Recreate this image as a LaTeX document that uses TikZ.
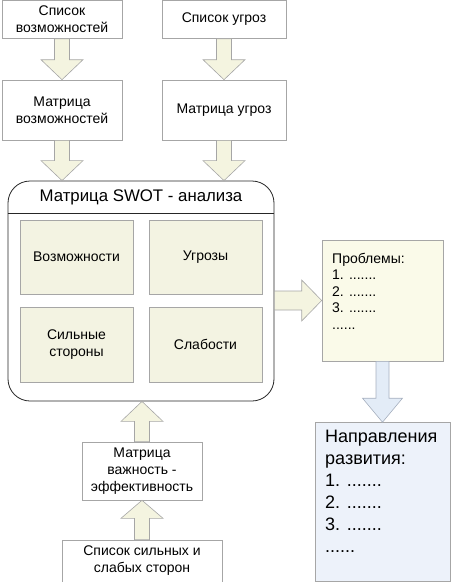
\documentclass[tikz,border=0pt]{standalone}
\usepackage{fontspec}
\setmainfont{Liberation Sans}
\usetikzlibrary{calc}
\definecolor{bordergray}{HTML}{A6A6A6}
\definecolor{beige}{HTML}{F3F3E2}
\definecolor{cream}{HTML}{FAFAE9}
\definecolor{arrowfill}{HTML}{F4F4E0}
\definecolor{bluefill}{HTML}{EDF2FA}
\definecolor{bluearrow}{HTML}{E3ECF7}
\definecolor{blueborder}{HTML}{A7B0BF}
\newcommand\blockarrow[6][]{%
  \coordinate (ba-s) at #2;
  \coordinate (ba-e) at #3;
  \coordinate (ba-h) at ($(ba-e)!#6!(ba-s)$);
  \filldraw[arrowbox,#1] ($(ba-s)!#4!90:(ba-e)$) -- ($(ba-h)!#4!-90:(ba-s)$) --
    ($(ba-h)!#5!-90:(ba-s)$) -- (ba-e) -- ($(ba-h)!#5!90:(ba-s)$) --
    ($(ba-h)!#4!90:(ba-s)$) -- ($(ba-s)!#4!-90:(ba-e)$) -- cycle;}
\begin{document}
\begin{tikzpicture}[x=1pt,y=-1pt,
  plain/.style={draw=bordergray, fill=white, align=center, inner sep=2pt,
    line width=0.6pt, font=\fontsize{14}{17}\selectfont},
  cell/.style={plain, fill=beige, minimum width=113pt, minimum height=74pt},
  arrowbox/.style={draw=bordergray, fill=arrowfill, line width=0.6pt},
  bluearrowbox/.style={draw=blueborder, fill=bluearrow}]
\useasboundingbox (0,0) rectangle (451,582);

% top boxes
\node[plain, minimum width=120pt, minimum height=38pt] (sv) at (62,19.5) {Список\\возможностей};
\node[plain, minimum width=124pt, minimum height=38pt] (su) at (224,19.5) {Список угроз};
\node[plain, minimum width=120pt, minimum height=60pt] (mv) at (62,110) {Матрица\\возможностей};
\node[plain, minimum width=124pt, minimum height=60pt] (mu) at (224,110) {Матрица угроз};

% SWOT container
\node[draw=black!85, rounded corners=22pt, minimum width=266pt, minimum height=220pt,
      line width=0.8pt, fill=white] (swot) at (141,291) {};
\coordinate (hl) at (0,213);
\draw[black!85, line width=0.8pt] (swot.west |- hl) -- (swot.east |- hl);
\node[font=\fontsize{16.8}{20}\selectfont] (title) at (141,197) {Матрица SWOT - анализа};
\node[cell] (vo) at (76.5,257) {Возможности};
\node[cell] (ug) at (205.5,257) {Угрозы};
\node[cell, minimum height=75pt] (sil) at (76.5,344.5) {Сильные\\стороны};
\node[cell, minimum height=75pt] (sl) at (205.5,344.5) {Слабости};

% problems
\node[plain, fill=cream, minimum width=121pt, minimum height=121pt] (prob) at (382.5,300.5) {};
\node[anchor=north west, align=left, inner sep=0pt, font=\fontsize{14}{16.5}\selectfont]
  (probtext) at (332,253) {Проблемы:\\1. .......\\2. .......\\3. .......\\......};

% directions
\node[plain, fill=bluefill, minimum width=135pt, minimum height=159pt] (napr) at (382.5,502) {};
\node[anchor=north west, align=left, inner sep=0pt, font=\fontsize{18}{22}\selectfont]
  (naprtext) at (325,430) {Направления\\развития:\\1. .......\\2. .......\\3. .......\\......};

% bottom boxes
\node[plain, minimum width=120pt, minimum height=58pt] (vaz) at (142,471) {Матрица\\важность -\\эффективность};
\node[plain, minimum width=160pt, minimum height=42pt] (sss) at (142,561) {Список сильных и\\слабых сторон};

% arrows
\blockarrow{(sv.south)}{(mv.north)}{7.5pt}{21pt}{20pt}
\blockarrow{(su.south)}{(mu.north)}{7.5pt}{21pt}{20pt}
\blockarrow{(mv.south)}{(swot.north -| mv.south)}{7.5pt}{21pt}{20pt}
\blockarrow{(mu.south)}{(swot.north -| mu.south)}{7.5pt}{21pt}{20pt}
\blockarrow{(prob.west -| swot.east)}{(prob.west)}{9.5pt}{20.5pt}{20pt}
\blockarrow[bluearrowbox]{(prob.south)}{(napr.north)}{6.5pt}{20pt}{24pt}
\blockarrow{(vaz.north)}{(swot.south -| vaz.north)}{7.5pt}{21pt}{20pt}
\blockarrow{(sss.north)}{(vaz.south)}{7.5pt}{21pt}{18pt}
\end{tikzpicture}
\end{document}
